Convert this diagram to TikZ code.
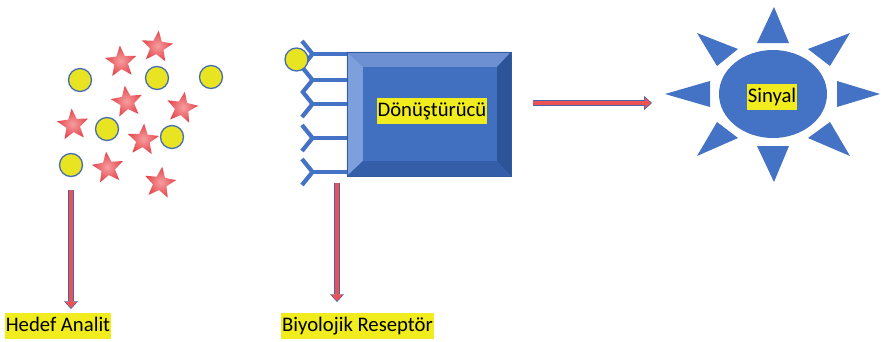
\documentclass[tikz,border=0pt]{standalone}
\usepackage{fontspec}
\setmainfont{Carlito}
\usetikzlibrary{shapes.geometric,arrows.meta,calc}

\definecolor{boxblue}{RGB}{66,112,193}
\definecolor{bevtop}{RGB}{108,144,210}
\definecolor{bevleft}{RGB}{125,160,220}
\definecolor{bevright}{RGB}{44,84,152}
\definecolor{bevbottom}{RGB}{52,94,168}
\definecolor{boxedge}{RGB}{50,90,160}
\definecolor{sunblue}{RGB}{68,114,196}
\definecolor{dotyellow}{RGB}{232,228,34}
\definecolor{dotedge}{RGB}{70,110,175}
\definecolor{starred}{RGB}{228,68,74}
\definecolor{starlight}{RGB}{246,158,160}
\definecolor{arrowred}{RGB}{234,82,84}
\definecolor{arrowedge}{RGB}{72,100,170}
\definecolor{hlyellow}{RGB}{240,236,30}

\begin{document}
\begin{tikzpicture}[x=1pt,y=-1pt,
  analyte/.style={circle, fill=dotyellow, draw=dotedge, line width=1.3pt,
    minimum size=23pt, inner sep=0pt},
  starshape/.style={star, star points=5, star point ratio=2.3,
    minimum size=33pt, inner sep=0pt, shade, inner color=starlight,
    outer color=starred},
  tag/.style={fill=hlyellow, text=black, font=\fontsize{20.7}{24}\selectfont,
    inner xsep=1pt, inner ysep=2.5pt, text height=15.5pt, text depth=5pt},
  % red block arrow with a thin blue rim; the argument is the gap left before the target
  redarrow/.style={draw=arrowred, line width=4.4pt,
    -{Triangle[width=11.5pt,length=6pt,line width=0pt]}, shorten >=#1+1.2pt,
    preaction={draw=arrowedge, line width=6pt,
      -{Triangle[width=14pt,length=7.8pt,line width=0pt]}, shorten >=#1}},
  redarrow/.default=0pt,
  antibody/.style={draw=sunblue, line width=4.2pt, line join=miter},
  ray/.style={fill=sunblue}]

\useasboundingbox (0,0) rectangle (881,341);

% target analyte: yellow particles and red stars
\node[starshape, shape border rotate=4]   (s1) at (121,62)  {};
\node[starshape, shape border rotate=-6]  (s2) at (157,47)  {};
\node[starshape, shape border rotate=8]   (s3) at (127,102) {};
\node[starshape, shape border rotate=-10] (s4) at (182,108) {};
\node[starshape, shape border rotate=5]   (s5) at (73,125)  {};
\node[starshape, shape border rotate=-4]  (s6) at (143,140) {};
\node[starshape, shape border rotate=7]   (s7) at (108,168) {};
\node[starshape, shape border rotate=-8]  (s8) at (160,183) {};

\node[analyte] (c1) at (80,80)   {};
\node[analyte] (c2) at (157,78)  {};
\node[analyte] (c3) at (211,77)  {};
\node[analyte] (c4) at (107,129) {};
\node[analyte] (c5) at (172,137) {};
\node[analyte] (c6) at (71,165)  {};

% transducer block with bevelled edges
\node[rectangle, minimum width=164pt, minimum height=124pt, fill=boxblue,
  inner sep=0pt] (trans) at (429,114) {};
\fill[bevtop] (trans.north west) -- (trans.north east)
  -- ($(trans.north east)+(-14,15)$) -- ($(trans.north west)+(16,15)$) -- cycle;
\fill[bevleft] (trans.north west) -- ($(trans.north west)+(16,15)$)
  -- ($(trans.south west)+(16,-15)$) -- (trans.south west) -- cycle;
\fill[bevright] (trans.north east) -- (trans.south east)
  -- ($(trans.south east)+(-14,-15)$) -- ($(trans.north east)+(-14,15)$) -- cycle;
\fill[bevbottom] (trans.south west) -- (trans.south east)
  -- ($(trans.south east)+(-14,-15)$) -- ($(trans.south west)+(16,-15)$) -- cycle;
\draw[boxedge, line width=0.6pt] (trans.north west) rectangle (trans.south east);
\node[tag] (dtext) at (432,111) {Dönüştürücü};

% biological receptors (Y-shaped antibodies)
\foreach \yy in {54,80,104,138,172}{
  \draw[antibody] (302,\yy-13) -- (312.5,\yy) -- (302,\yy+13);
  \draw[antibody] (312.5,\yy) -- (347,\yy);
}
\node[analyte] (bound) at (296.5,59.5) {};

% signal: sun shape
\node[ellipse, fill=sunblue, minimum width=108pt, minimum height=88pt,
  inner sep=0pt] (sun) at (773,94) {};
\fill[ray] (774,7) -- (789,43) -- (757,43) -- cycle;
\fill[ray] (774,182) -- (789,146) -- (757,146) -- cycle;
\fill[ray] (665,94) -- (710,81) -- (710,107) -- cycle;
\fill[ray] (880,94) -- (837,81) -- (837,107) -- cycle;
\fill[ray] (697,33) -- (738,49) -- (717,66) -- cycle;
\fill[ray] (850,33) -- (808,49) -- (830,66) -- cycle;
\fill[ray] (697,156) -- (717,122) -- (738,138) -- cycle;
\fill[ray] (850,156) -- (830,122) -- (808,138) -- cycle;
\node[tag] (sig) at (772,97) {Sinyal};

% labels
\node[tag] (hedef) at (58,326) {Hedef Analit};
\node[tag] (recep) at (357.5,326) {Biyolojik Reseptör};

% arrows
\coordinate (a1) at (71,190);
\coordinate (a2) at (337,183);
\coordinate (a3s) at (533,103);
\coordinate (a3e) at (652,103);
\draw[redarrow=4pt] (a1) -- (a1 |- hedef.north);
\draw[redarrow=11pt] (a2) -- (a2 |- recep.north);
\draw[redarrow] (a3s) -- (a3e);

\end{tikzpicture}
\end{document}
